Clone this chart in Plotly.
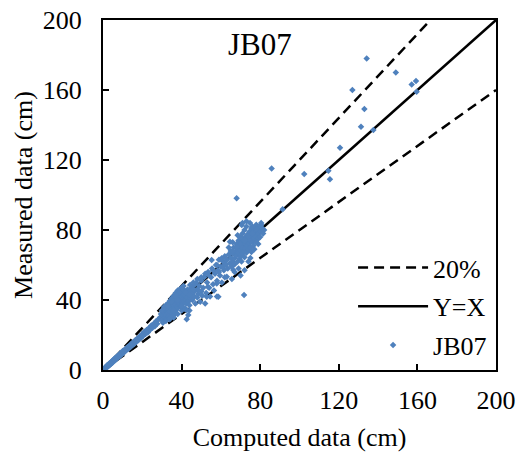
import plotly.graph_objects as go

# ---- data ----
low_x = [0.3,0.6,0.8,1.0,1.2,1.5,1.8,2.0,2.2,2.5,2.8,3.0,3.3,3.6,4.0,4.2,4.5,4.8,5.0,5.3,5.6,6.0,6.3,6.6,7.0,7.3,7.6,8.0,8.4,8.8,9.2,9.6,10.0,10.4,10.8,11.2,11.6,12.0,12.5,13.0,13.5,14.0,14.5,15.0,15.5,16.0,16.5,17.0,17.5,18.0,18.6,19.2,19.8,20.4,21.0,21.6,22.2,22.8,23.4,24.0,24.6,25.2,25.8,26.4,27.0,27.6,28.2]
low_y = [0.5,0.2,1.2,0.8,1.5,1.0,2.2,1.6,2.8,2.0,3.2,2.5,3.8,3.0,4.5,3.6,5.0,4.2,5.6,4.8,6.2,5.5,7.0,6.0,7.6,6.8,8.2,7.5,9.0,8.2,9.8,9.0,10.8,9.8,11.5,10.6,12.2,11.4,13.2,12.2,14.0,13.2,15.2,14.2,16.0,15.0,17.2,16.2,18.0,17.0,19.2,18.2,20.5,19.5,21.8,20.6,22.8,21.5,24.0,23.0,25.4,24.2,26.5,25.0,27.8,26.4,29.0]

mid_x = [29,29.5,30,30.5,31,31.5,32,32,32.5,33,33,33.5,34,34,34.5,35,35,35.2,35.5,35.8,36,36,36.3,36.5,36.8,37,37,37.2,37.5,37.6,38,38,38.2,38.5,38.7,39,39,39.3,39.5,39.6,40,40,40.3,40.5,40.8,41,41.2,41.5,41.6,42,42,42.3,42.5,42.6,43,43,43.4,43.8,44,44.2,44.5,45,45,45.5,46,46,46.5,47,47,47.5,48,48,48.5,49,49.5,50,50,50.5,
         30,31,32,33,34,35,36,37,38,39,40,41,30.5,32,34,36,38,40,42,44,43.4,42.6,44.3,46.8,33,35,37,39,41,36,38,40,42,44,46]
mid_y = [30,32,28.5,31,33,30,34,31.5,29.5,35,32.5,31,36,33.5,30.5,37.5,35,32.5,38.5,34,36.5,31.5,39,35.5,33,40,37.5,34.5,41,36,38.5,35.5,42,39.5,37,41,38,43.5,36.5,40,42,39,44,37.5,41,43,39.5,45,35,42.5,40,38,44,29,41.5,46,39,43,37,45,41,47,43.5,40,44.5,48.5,42,45.5,38,50,46,41.5,43.5,48,39,45,51,42.5,
         34,36,37,38,39.5,41,42.5,44,45.5,46,47,48,27,28,29,30,32,34,35,34,31.4,34.3,48.6,49,36.5,39,42,44.5,46,34,40,36.5,44.5,43,46]

sparse_x = [51,51.5,52,52.5,53,53.5,54,54.5,55,55.5,56,56.5,57,57.5,58,58,58.5,59,59.5,60,60.5,61,61.5,62,62,
            46,48,50,52,53.4,52.8,57.9,55.3,60.4,58,56,54,59,61,62,63,65.6,66.3,58.7]
sparse_y = [47,53,38,44,50,56,47,42,53,58,49,45.5,55,60,42,51,57,63,54,59,50,62,57,65,53,
            50,52,53,55,47.6,41.9,49.5,62.9,63.8,60,57,54,56,59,61,53.3,52,57.1,41.9]

up_x = [62.5,63,63.5,64,64.5,65,65,65.5,66,66,66.5,67,67,67.5,68,68,68.5,68.5,69,69,69.5,69.5,70,70,70,70.5,70.5,71,71,71,71.5,71.5,72,72,72,72.5,72.5,73,73,73,73.5,73.5,74,74,74,74.5,74.5,75,75,75,75.5,75.5,76,76,76.5,76.5,77,77,77.5,77.5,78,78,78.5,79,79,79.5,80,80,80.5,73,71,68.5,66,69,72,67,70,75,77,79,
        64.6,70.6,74.8,80.5,78,76,81,82,81.5,80,78,64,66,68,70,72,74,76,78]
up_y = [60,63,58,66,61,64,68,59,62,66.5,70,64,60.5,67.5,72,65.5,62,69,74,67,63.5,71,76,68.5,65,73,62,70,78,66.5,74.5,68,72,80,64.5,76,69.5,73.5,67,82,71,77.5,75,69,62,79,72.5,74,77,70,81,67.5,76,73,78.5,71,75,80,77,73.5,79,76,81.5,78,75,80.5,82,79,83,85,84,77,73,58,57,56,54,64,69,72,
        73.3,82.9,84,84,83,82,81,80,78,76,73,70,68,70.5,72,74,76.5,78,80.5]

out_x = [134.2,149,126.9,157.1,159.3,159.6,133,131.3,137.6,120.6,85.8,102.4,114.7,115.5,68,91.4,71.8]
out_y = [178,170,160,163.2,165.1,159,149.1,139,137.1,127,115.2,112,113.9,109,98.1,91.8,42.9]

computed = low_x + mid_x + sparse_x + up_x + out_x
measured = low_y + mid_y + sparse_y + up_y + out_y

band_x = [0, 200/1.2, None, 0, 200]
band_y = [0, 200, None, 0, 160]
line_x = [0, 200]
line_y = [0, 200]

FONT = "Liberation Serif"

fig = go.Figure()
fig.add_trace(go.Scatter(x=band_x, y=band_y, mode="lines", name="20%",
                         line=dict(color="black", width=2.5, dash="10px,6px"),
                         legendgroup="a"))
fig.add_trace(go.Scatter(x=line_x, y=line_y, mode="lines", name="Y=X",
                         line=dict(color="black", width=2.5), legendgroup="b"))
fig.add_trace(go.Scatter(x=computed, y=measured, mode="markers", name="JB07",
                         marker=dict(symbol="diamond", size=5, color="#4F81BD"),
                         legendgroup="c"))

axis_common = dict(range=[0, 200], tickmode="linear", tick0=0, dtick=40,
                   ticks="inside", ticklen=6, tickwidth=2, tickcolor="black",
                   showline=True, linecolor="black", linewidth=2, mirror=True,
                   showgrid=False, zeroline=False, automargin=False,
                   tickfont=dict(family=FONT, size=26, color="black"))

fig.update_xaxes(**axis_common, ticklabelstandoff=6,
                 title=dict(text="Computed data (cm)", standoff=14,
                            font=dict(family=FONT, size=26, color="black")))
fig.update_yaxes(**axis_common, ticklabelstandoff=14,
                 title=dict(text="Measured data (cm)", standoff=3,
                            font=dict(family=FONT, size=26, color="black")))

fig.add_annotation(text="JB07", x=0.4, y=0.929, xref="paper", yref="paper",
                   xanchor="center", yanchor="middle",
                   showarrow=False, font=dict(family=FONT, size=31, color="black"))

fig.update_layout(
    width=528, height=454,
    margin=dict(l=103, r=32, t=20, b=84),
    paper_bgcolor="white", plot_bgcolor="white",
    showlegend=True,
    legend=dict(x=0.99, y=0.36, xanchor="right", yanchor="top",
                bgcolor="rgba(0,0,0,0)", itemwidth=70, tracegroupgap=2,
                font=dict(family=FONT, size=26, color="black")),
)

fig.write_html("out.html")
